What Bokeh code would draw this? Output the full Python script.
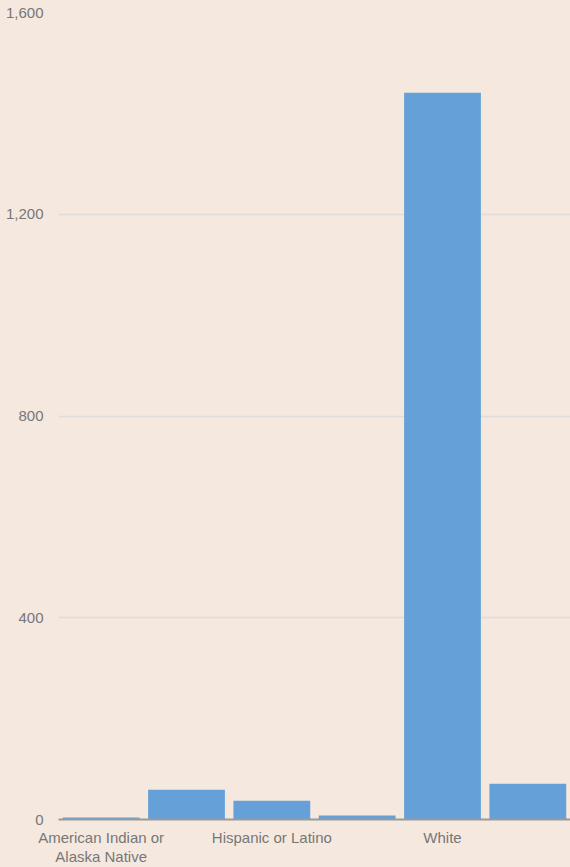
from bokeh.plotting import figure
from bokeh.models import FixedTicker, NumeralTickFormatter, Range1d
from bokeh.embed import file_html
from bokeh.resources import INLINE

categories = ["American Indian or Alaska Native", "Asian", "Hispanic or Latino",
              "Native Hawaiian or Other Pacific Islander", "White", "Two or more races"]
values = [4, 59, 37, 8, 1441, 71]
# only every other category label is drawn in the reference
tick_labels = {"American Indian or Alaska Native": "American Indian or\nAlaska Native",
               "Hispanic or Latino": "Hispanic or Latino",
               "White": "White"}
y_ticks = [0, 400, 800, 1200, 1600]

positions = list(range(len(categories)))
label_pos = [categories.index(c) for c in tick_labels]
overrides = {categories.index(c): t for c, t in tick_labels.items()}

BG = "#f5e8df"
p = figure(x_range=Range1d(-0.5, len(categories) - 0.5), y_range=Range1d(0, 1600),
           width=570, height=867,
           output_backend="svg", toolbar_location=None,
           background_fill_color=BG, border_fill_color=BG,
           min_border_left=58, min_border_right=0, min_border_top=12, min_border_bottom=46)
p.outline_line_color = None

p.vbar(x=positions, top=values, width=0.9, color="#65a1d8", line_color=None)

p.xgrid.grid_line_color = None
p.ygrid.grid_line_color = "#dfdcd9"
p.ygrid.grid_line_width = 1.5
p.ygrid.ticker = FixedTicker(ticks=y_ticks)

p.yaxis.ticker = FixedTicker(ticks=y_ticks)
p.yaxis.formatter = NumeralTickFormatter(format="0,0")
p.yaxis.axis_line_color = None
p.yaxis.major_tick_line_color = None
p.yaxis.minor_tick_line_color = None
p.yaxis.major_tick_out = 0
p.yaxis.major_label_standoff = 15
p.yaxis.major_label_text_color = "#777777"
p.yaxis.major_label_text_font = "Liberation Sans"
p.yaxis.major_label_text_font_size = "15px"

p.xaxis.ticker = FixedTicker(ticks=label_pos, minor_ticks=[])
p.xaxis.major_label_overrides = overrides
p.xaxis.axis_line_color = "#9a9a9a"
p.xaxis.axis_line_width = 2
p.xaxis.major_tick_line_color = None
p.xaxis.minor_tick_line_color = None
p.xaxis.major_tick_out = 0
p.xaxis.major_label_standoff = 9
p.xaxis.major_label_text_color = "#777777"
p.xaxis.major_label_text_font = "Liberation Sans"
p.xaxis.major_label_text_font_size = "15px"
p.xaxis.major_label_text_line_height = 1.12

html = file_html(p, INLINE)
html = html.replace("<head>", "<head><style>html,body{margin:0;padding:0;background:%s;overflow:hidden}</style>" % BG, 1)
open("out.html", "w").write(html)
